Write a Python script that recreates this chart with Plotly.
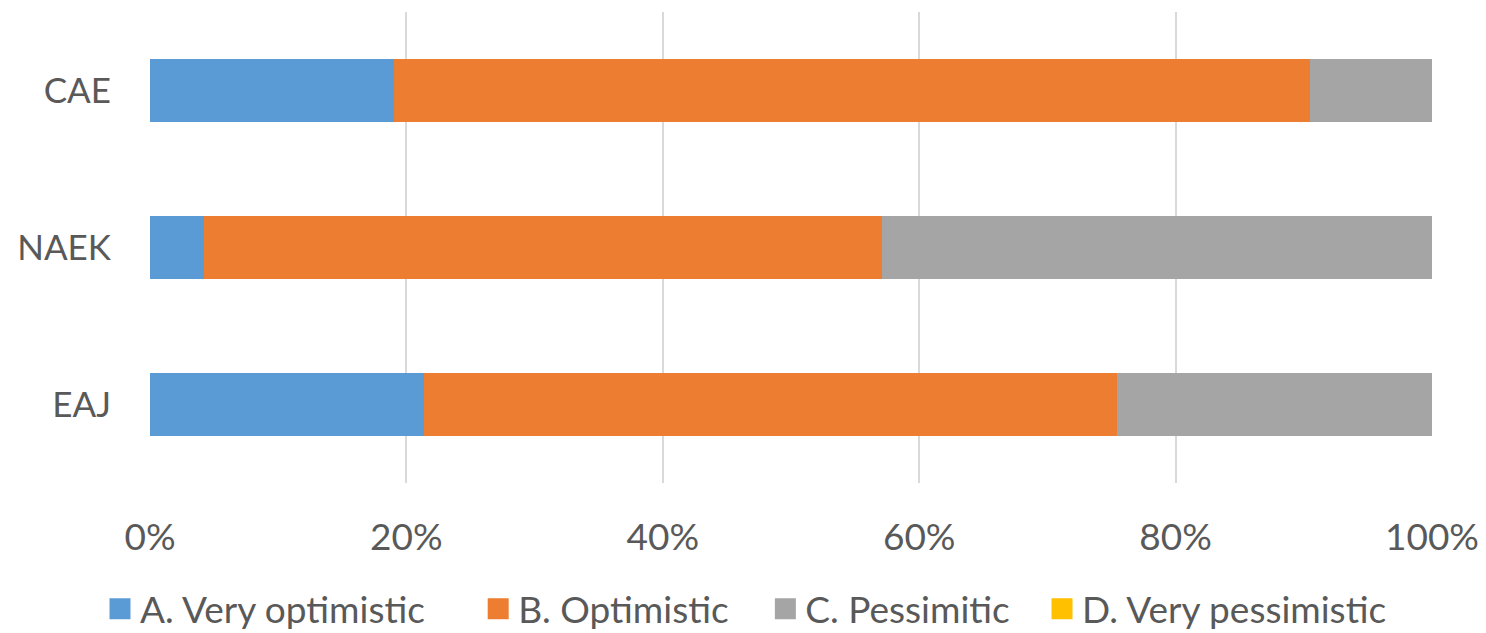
import plotly.graph_objects as go

categories = ['EAJ', 'NAEK', 'CAE']
very_optimistic = [0.214, 0.042, 0.190]
optimistic = [0.540, 0.529, 0.715]
pessimistic = [0.246, 0.429, 0.095]
very_pessimistic = [0.0, 0.0, 0.0]

series_names = ['A. Very optimistic', 'B. Optimistic', 'C. Pessimitic', 'D. Very pessimistic']
colors = ['#5B9BD5', '#ED7D31', '#A5A5A5', '#FFC000']
text_color = '#595959'
font_family = 'Lato, Open Sans, sans-serif'

# legend entries sit at fixed spots along the bottom, one legend each
legend_ids = ['legend', 'legend2', 'legend3', 'legend4']
legend_x = [-0.039, 0.256, 0.480, 0.6958]

fig = go.Figure()
for name, vals, col in zip(series_names,
                           [very_optimistic, optimistic, pessimistic, very_pessimistic],
                           colors):
    fig.add_trace(go.Bar(
        y=categories, x=vals, name=name, orientation='h', showlegend=False,
        marker=dict(color=col, line=dict(width=0))))

# legend-only markers so the swatches can be bigger than the bar default
for name, col, lg in zip(series_names, colors, legend_ids):
    fig.add_trace(go.Scatter(
        x=[None], y=[None], mode='markers', name=name, legend=lg,
        marker=dict(symbol='square', size=16, color=col, line=dict(width=5, color=col))))

legend_style = dict(
    orientation='h', y=-0.268, yanchor='middle', xanchor='left',
    font=dict(size=37, color=text_color, family=font_family),
    bgcolor='rgba(0,0,0,0)', borderwidth=0)

fig.update_layout(
    barmode='stack',
    bargap=0.605,
    width=1486, height=633,
    margin=dict(l=142, r=62, t=4, b=158, autoexpand=False),
    plot_bgcolor='white', paper_bgcolor='white',
    font=dict(family=font_family, color=text_color),
    **{lg: dict(legend_style, x=lx) for lg, lx in zip(legend_ids, legend_x)},
)
fig.update_xaxes(
    range=[0, 1], dtick=0.2, tickformat='.0%',
    showgrid=True, gridcolor='#D9D9D9', gridwidth=1.5,
    zeroline=False, showline=False,
    tickfont=dict(size=37, color=text_color),
    ticklabelstandoff=29,
)
fig.update_yaxes(
    showgrid=False, zeroline=False, showline=False,
    tickfont=dict(size=35, color=text_color),
    ticklabelstandoff=38,
)

fig.write_html('out.html')
